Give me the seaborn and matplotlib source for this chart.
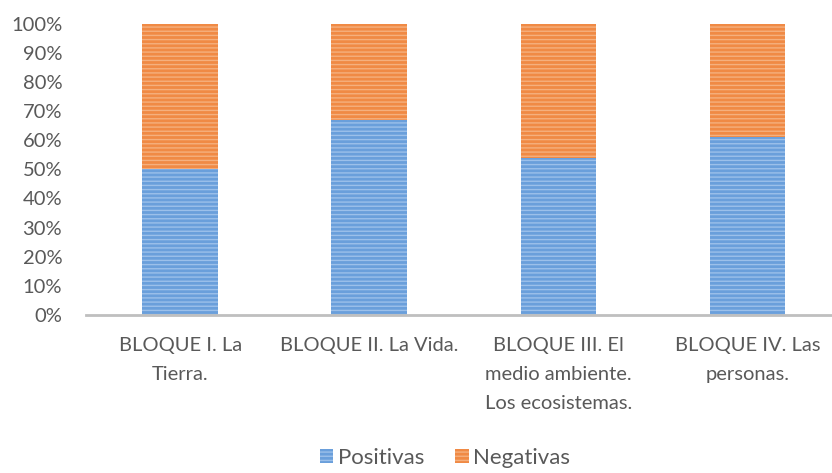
import numpy as np
import pandas as pd
import matplotlib
matplotlib.use("Agg")
import matplotlib.pyplot as plt
import seaborn as sns
from matplotlib.patches import Patch

# ============================================================
# DATA
# ============================================================

categorias = [
    "BLOQUE I. La\nTierra.",
    "BLOQUE II. La Vida.",
    "BLOQUE III. El\nmedio ambiente.\nLos ecosistemas.",
    "BLOQUE IV. Las\npersonas.",
]
positivas = [50, 67, 54, 61]
negativas = [50, 33, 46, 39]
y_ticks = [0, 10, 20, 30, 40, 50, 60, 70, 80, 90, 100]

AZUL = "#6a9fdb"
AZUL_LINEA = "#9cc0ea"
NARANJA = "#f08a45"
NARANJA_LINEA = "#f5b07e"
GRIS = "#595959"

# ============================================================
# PLOT
# ============================================================

sns.set_style("white")
plt.rcParams["font.family"] = ["Lato", "DejaVu Sans"]
plt.rcParams["hatch.linewidth"] = 1.0

df = pd.DataFrame({
    "categoria": categorias,
    "Positivas": positivas,
    "total": np.array(positivas) + np.array(negativas),
})

fig = plt.figure(figsize=(8.32, 4.73), dpi=100)
ax = fig.add_axes([0.1031, 0.334, 0.9087, 0.616])

sns.barplot(
    data=df, x="categoria", y="total", color=NARANJA,
    width=0.4, saturation=1, ax=ax,
    edgecolor=NARANJA_LINEA, linewidth=0, hatch="----",
)
sns.barplot(
    data=df, x="categoria", y="Positivas", color=AZUL,
    width=0.4, saturation=1, ax=ax,
    edgecolor=AZUL_LINEA, linewidth=0, hatch="----",
)

ax.set_xlim(-0.5, 3.5)
ax.set_ylim(0, 100)
ax.set_yticks(y_ticks)
ax.set_yticklabels([f"{v}%" for v in y_ticks])
ax.set_xlabel("")
ax.set_ylabel("")

for side in ["top", "right", "left"]:
    ax.spines[side].set_visible(False)
ax.spines["bottom"].set_color("#bfbfbf")
ax.spines["bottom"].set_linewidth(2)

ax.tick_params(axis="y", length=0, labelsize=14.5, labelcolor=GRIS, pad=17)
ax.tick_params(axis="x", length=0, labelsize=14.5, labelcolor=GRIS, pad=16)
for lbl in ax.get_xticklabels():
    lbl.set_linespacing(1.85)

handles = [
    Patch(facecolor=AZUL, edgecolor=AZUL_LINEA, linewidth=0, hatch="----", label="Positivas"),
    Patch(facecolor=NARANJA, edgecolor=NARANJA_LINEA, linewidth=0, hatch="----", label="Negativas"),
]
fig.legend(
    handles=handles, loc="lower center", bbox_to_anchor=(0.535, -0.032),
    ncol=2, frameon=False, fontsize=16, labelcolor=GRIS,
    handlelength=0.6, handleheight=0.6, handletextpad=0.2, columnspacing=1.4,
)

fig.savefig("out.png", dpi=100)
